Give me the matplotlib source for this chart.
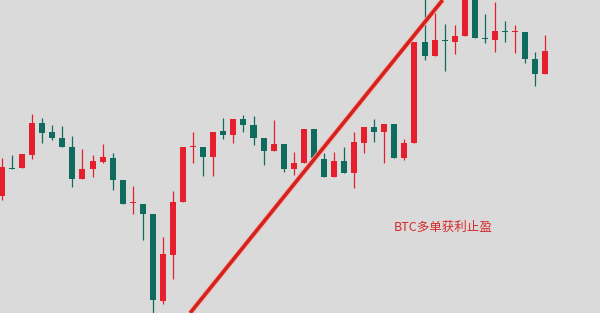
import matplotlib
matplotlib.use("Agg")
import matplotlib.pyplot as plt
import matplotlib.patheffects as pe
import numpy as np

# OHLC bars (arbitrary price units)
opens  = [117, 145, 145, 158, 190, 181, 175, 166, 134, 144, 151, 155, 133, 110, 109, 99, 12, 58, 111, 166,
          166, 156, 182, 178, 194, 188, 175, 162, 169, 144, 150, 184, 154, 136, 152, 140, 170, 186, 181, 189,
          155, 170, 271, 257, 273, 271, 277, 325, 275, 273, 282, 281, 281, 254, 239]
highs  = [155, 158, 159, 199, 195, 188, 187, 177, 164, 158, 169, 160, 133, 127, 109, 99, 76, 122, 166, 181,
          166, 181, 195, 194, 198, 197, 175, 193, 169, 161, 184, 184, 160, 161, 166, 181, 186, 194, 189, 189,
          174, 271, 318, 300, 289, 288, 330, 330, 299, 311, 292, 288, 281, 261, 278]
lows   = [113, 144, 145, 154, 170, 173, 166, 126, 134, 136, 150, 123, 109, 99, 73, -5, 9, 34, 111, 150,
          137, 137, 174, 170, 181, 168, 148, 162, 141, 138, 150, 153, 136, 136, 140, 125, 160, 171, 150, 155,
          153, 170, 253, 257, 242, 259, 277, 275, 270, 261, 271, 260, 250, 227, 239]
closes = [146, 144, 159, 190, 180, 175, 166, 134, 144, 152, 156, 133, 109, 111, 99, 13, 59, 111, 166, 167,
          156, 181, 178, 194, 188, 175, 162, 169, 144, 150, 184, 155, 136, 152, 140, 171, 186, 181, 189, 155,
          170, 271, 257, 273, 272, 277, 325, 275, 274, 282, 281, 282, 254, 239, 262]

# Hand-drawn trend line (bar index, price)
trend_x = [18.7, 43.8]
trend_y = [0, 313]

label_text = "BTC多单获利止盈"

UP = "#e5202c"
DOWN = "#0f6b5d"
BG = "#dadada"

fig = plt.figure(figsize=(6.0, 3.13), dpi=100)
fig.patch.set_facecolor(BG)
ax = fig.add_axes([0, 0, 1, 1])
ax.set_facecolor(BG)

o = np.array(opens, dtype=float)
h = np.array(highs, dtype=float)
l = np.array(lows, dtype=float)
c = np.array(closes, dtype=float)
idx = np.arange(len(o))
step = 10.06

colors = [UP if cc >= oo else DOWN for oo, cc in zip(o, c)]

ax.vlines(idx, l, h, colors=colors, linewidth=0.9, zorder=2)
body_lo = np.minimum(o, c)
body_h = np.maximum(np.abs(c - o), 1.3)
ax.bar(idx, body_h, bottom=body_lo, width=0.6, color=colors, linewidth=0, zorder=3)

ax.plot(trend_x, trend_y, color="#d6221c", linewidth=2.6, solid_capstyle="butt", zorder=4,
        path_effects=[pe.Stroke(linewidth=3.8, foreground="#f2b0ac"), pe.Normal()])

ax.text(38.9, 86, label_text, color="#d42a2a", fontsize=9, ha="left", va="center",
        family=["Noto Sans CJK SC", "DejaVu Sans"], zorder=5)

ax.set_xlim(-2 / step, (600 - 2) / step)
ax.set_ylim(0, 313)
ax.axis("off")

fig.savefig("out.png", dpi=100, facecolor=BG)
